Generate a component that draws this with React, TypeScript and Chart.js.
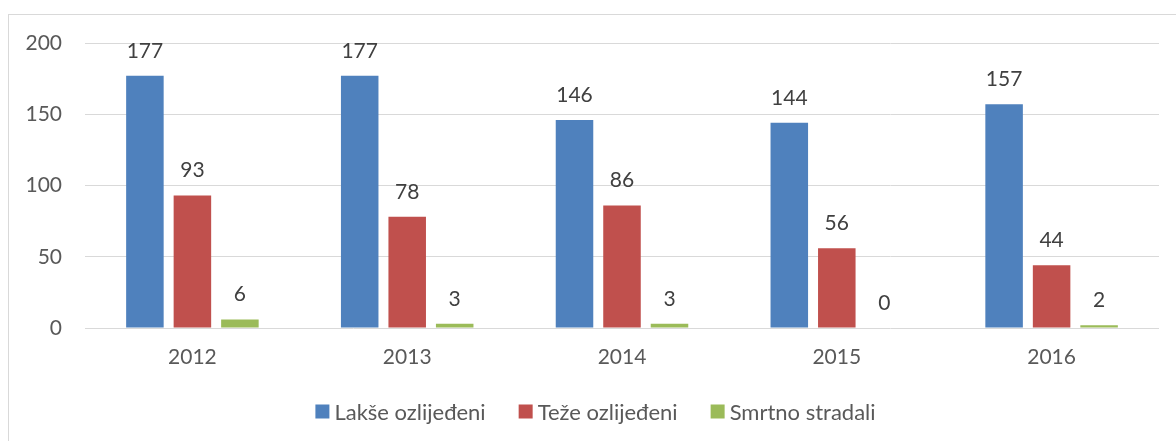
import React, { useEffect, useRef } from "react";
import { Chart, registerables } from "chart.js";

Chart.register(...registerables);

const years = ["2012", "2013", "2014", "2015", "2016"];
const lakseOzlijedeni = [177, 177, 146, 144, 157];
const tezeOzlijedeni = [93, 78, 86, 56, 44];
const smrtnoStradali = [6, 3, 3, 0, 2];
const seriesNames = ["Lakše ozlijeđeni", "Teže ozlijeđeni", "Smrtno stradali"];
const seriesColors = ["#4F81BD", "#C0504D", "#9BBB59"];
const yMin = 0;
const yMax = 200;
const yStep = 50;

const FONT = "Lato";
const FONT_SIZE = 21;
const LEGEND_FONT_SIZE = 22;

const framePlugin = {
  id: "frame",
  beforeDraw(chart: any) {
    const ctx = chart.ctx;
    ctx.save();
    ctx.strokeStyle = "#d9d9d9";
    ctx.lineWidth = 1;
    ctx.strokeRect(8.5, 14.5, 1400, 800);
    ctx.restore();
  },
};

const dataLabelPlugin = {
  id: "dataLabels",
  afterDatasetsDraw(chart: any) {
    const ctx = chart.ctx;
    ctx.save();
    ctx.font = `${FONT_SIZE}px ${FONT}`;
    ctx.fillStyle = "#404040";
    ctx.textAlign = "center";
    ctx.textBaseline = "alphabetic";
    chart.data.datasets.forEach((ds: any, i: number) => {
      const meta = chart.getDatasetMeta(i);
      meta.data.forEach((el: any, j: number) => {
        ctx.fillText(String(ds.data[j]), el.x, el.y - 18);
      });
    });
    ctx.restore();
  },
};

const legendPlugin = {
  id: "customLegend",
  afterDraw(chart: any) {
    const ctx = chart.ctx;
    ctx.save();
    ctx.font = `${LEGEND_FONT_SIZE}px ${FONT}`;
    ctx.textBaseline = "middle";
    ctx.textAlign = "left";
    const box = 14;
    const boxGap = 5;
    const itemGap = 33;
    const items = chart.data.datasets.map((ds: any) => ({
      text: ds.label,
      color: ds.backgroundColor,
      w: ctx.measureText(ds.label).width,
    }));
    const total =
      items.reduce((s: number, it: any) => s + box + boxGap + it.w, 0) +
      itemGap * (items.length - 1);
    const centerX = (8 + 1183) / 2;
    const cy = 411.5;
    let x = centerX - total / 2;
    items.forEach((it: any) => {
      ctx.fillStyle = it.color;
      ctx.fillRect(x, cy - box / 2, box, box);
      x += box + boxGap;
      ctx.fillStyle = "#595959";
      ctx.fillText(it.text, x, cy + 1);
      x += it.w + itemGap;
    });
    ctx.restore();
  },
};

export default function App() {
  const canvasRef = useRef<HTMLCanvasElement | null>(null);

  useEffect(() => {
    const canvas = canvasRef.current;
    if (!canvas) return;
    Chart.defaults.font.family = FONT;
    const chart = new Chart(canvas, {
      type: "bar",
      data: {
        labels: years,
        datasets: [
          { label: seriesNames[0], data: lakseOzlijedeni, backgroundColor: seriesColors[0] },
          { label: seriesNames[1], data: tezeOzlijedeni, backgroundColor: seriesColors[1] },
          { label: seriesNames[2], data: smrtnoStradali, backgroundColor: seriesColors[2] },
        ],
      },
      options: {
        responsive: false,
        animation: false,
        datasets: {
          bar: {
            categoryPercentage: 0.6634,
            barPercentage: 0.79,
          },
        },
        layout: { padding: { left: 0, right: 17, top: 43, bottom: 0 } },
        plugins: {
          legend: { display: false },
          tooltip: { enabled: false },
        },
        scales: {
          x: {
            grid: { display: false, drawTicks: false },
            border: { display: false },
            ticks: {
              color: "#595959",
              font: { size: FONT_SIZE, family: FONT },
              padding: 17,
            },
            afterFit(scale: any) {
              scale.height = 113;
            },
          },
          y: {
            min: yMin,
            max: yMax,
            grid: { color: "#d9d9d9", lineWidth: 1, drawTicks: false },
            border: { display: false },
            ticks: {
              stepSize: yStep,
              color: "#595959",
              font: { size: FONT_SIZE, family: FONT },
              padding: 23,
            },
            afterFit(scale: any) {
              scale.width = 85;
            },
          },
        },
      },
      plugins: [framePlugin, dataLabelPlugin, legendPlugin],
    });
    return () => chart.destroy();
  }, []);

  return (
    <canvas
      ref={canvasRef}
      width={1176}
      height={441}
      style={{ position: "fixed", left: 0, top: 0, display: "block", background: "#ffffff" }}
    />
  );
}
